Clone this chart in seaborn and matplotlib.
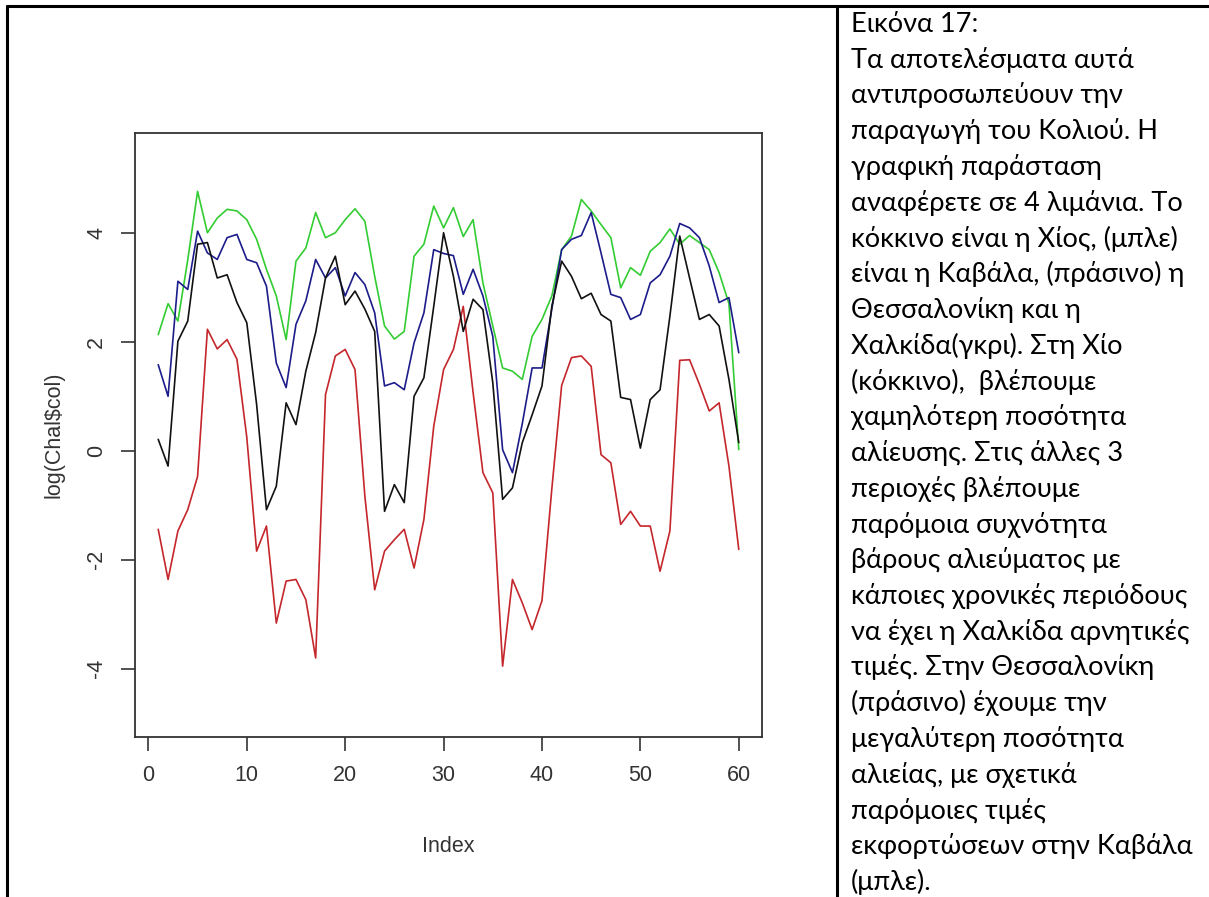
import pandas as pd
import matplotlib.pyplot as plt
import seaborn as sb
from matplotlib.lines import Line2D

# log catch per month, 4 ports
index = list(range(1, 61))
chios = [-1.44, -2.36, -1.47, -1.08, -0.47, 2.23, 1.87, 2.04, 1.68, 0.25,
         -1.84, -1.38, -3.16, -2.39, -2.36, -2.73, -3.80, 1.03, 1.74, 1.86,
         1.49, -0.83, -2.55, -1.84, -1.63, -1.44, -2.15, -1.26, 0.45, 1.49,
         1.86, 2.65, 1.07, -0.40, -0.77, -3.95, -2.36, -2.79, -3.28, -2.75,
         -0.70, 1.20, 1.71, 1.74, 1.55, -0.07, -0.22, -1.35, -1.11, -1.38,
         -1.38, -2.21, -1.47, 1.66, 1.67, 1.22, 0.73, 0.88, -0.28, -1.81]
kavala = [1.58, 1.00, 3.11, 2.96, 4.03, 3.63, 3.51, 3.91, 3.97, 3.51,
          3.45, 3.02, 1.61, 1.16, 2.32, 2.75, 3.51, 3.17, 3.36, 2.84,
          3.27, 3.05, 2.53, 1.19, 1.25, 1.12, 1.98, 2.53, 3.69, 3.62,
          3.58, 2.87, 3.33, 2.84, 2.10, 0.02, -0.40, 0.50, 1.52, 1.52,
          2.60, 3.69, 3.88, 3.95, 4.37, 3.63, 2.87, 2.81, 2.41, 2.50,
          3.08, 3.23, 3.57, 4.17, 4.09, 3.91, 3.39, 2.72, 2.81, 1.80]
thessaloniki = [2.13, 2.70, 2.38, 3.50, 4.76, 4.00, 4.27, 4.43, 4.40, 4.24,
                3.88, 3.33, 2.84, 2.04, 3.48, 3.72, 4.37, 3.91, 4.00, 4.24,
                4.44, 4.21, 3.20, 2.29, 2.05, 2.19, 3.57, 3.79, 4.49, 4.09,
                4.46, 3.93, 4.24, 3.08, 2.29, 1.52, 1.46, 1.31, 2.10, 2.41,
                2.84, 3.69, 3.94, 4.61, 4.40, 4.15, 3.91, 2.99, 3.36, 3.22,
                3.66, 3.82, 4.07, 3.79, 3.95, 3.82, 3.69, 3.27, 2.70, 0.02]
chalkida = [0.21, -0.28, 2.01, 2.38, 3.79, 3.82, 3.17, 3.23, 2.72, 2.35,
            0.85, -1.08, -0.65, 0.88, 0.48, 1.46, 2.17, 3.17, 3.57, 2.68,
            2.93, 2.60, 2.19, -1.11, -0.62, -0.95, 1.00, 1.34, 2.65, 4.00,
            3.20, 2.19, 2.78, 2.59, 1.25, -0.89, -0.68, 0.15, 0.66, 1.19,
            2.65, 3.48, 3.20, 2.79, 2.89, 2.50, 2.38, 0.98, 0.94, 0.05,
            0.94, 1.12, 2.47, 3.94, 3.17, 2.41, 2.50, 2.29, 1.31, 0.15]

caption = ['Εικόνα 17:',
           'Τα αποτελέσματα αυτά',
           'αντιπροσωπεύουν την',
           'παραγωγή του Κολιού. Η',
           'γραφική παράσταση',
           'αναφέρετε σε 4 λιμάνια. Το',
           'κόκκινο είναι η Χίος, (μπλε)',
           'είναι η Καβάλα, (πράσινο) η',
           'Θεσσαλονίκη και η',
           'Χαλκίδα(γκρι). Στη Χίο',
           '(κόκκινο),  βλέπουμε',
           'χαμηλότερη ποσότητα',
           'αλίευσης. Στις άλλες 3',
           'περιοχές βλέπουμε',
           'παρόμοια συχνότητα',
           'βάρους αλιεύματος με',
           'κάποιες χρονικές περιόδους',
           'να έχει η Χαλκίδα αρνητικές',
           'τιμές. Στην Θεσσαλονίκη',
           '(πράσινο) έχουμε την',
           'μεγαλύτερη ποσότητα',
           'αλιείας, με σχετικά',
           'παρόμοιες τιμές',
           'εκφορτώσεων στην Καβάλα',
           '(μπλε).']

df = pd.DataFrame({'Index': index, 'chios': chios, 'kavala': kavala,
                   'thessaloniki': thessaloniki, 'chalkida': chalkida})

sb.set_style('ticks')
plt.rcParams['font.family'] = ['Liberation Sans Narrow', 'Liberation Sans', 'DejaVu Sans']

W, H = 1209, 897
fig = plt.figure(figsize=(W / 100, H / 100), dpi=100)
fig.patch.set_facecolor('white')

# R style plot box
ax = fig.add_axes([135 / W, 1 - 737 / H, (762 - 135) / W, (737 - 133) / H])
for col, c in [('thessaloniki', '#33cc33'), ('kavala', '#1c1c8a'),
               ('chios', '#c4262b'), ('chalkida', '#111111')]:
    sb.lineplot(data=df, x='Index', y=col, color=c, lw=1.2, ax=ax)

ax.set_xlim(-1.36, 62.36)
ax.set_ylim(-5.25, 5.83)
ax.set_xticks(range(0, 61, 10))
ax.set_yticks([-4, -2, 0, 2, 4])
ax.set_yticklabels(['-4', '-2', '0', '2', '4'], rotation=90, va='center')
ax.tick_params(length=10, width=1.2, color='#333333', labelsize=15.5,
               labelcolor='#333333', pad=10)
for s in ax.spines.values():
    s.set_visible(True)
    s.set_color('#333333')
    s.set_linewidth(1.3)
ax.set_xlabel('Index', fontsize=15.5, color='#333333', labelpad=36)
ax.set_ylabel(r'log(Chal\$col)', fontsize=15.5, color='#333333', labelpad=16)
ax.grid(False)

# table borders of the document
lw = 2.2
fig.add_artist(Line2D([7 / W, 1], [1 - 6 / H, 1 - 6 / H], color='black', lw=lw))
fig.add_artist(Line2D([7 / W, 7 / W], [0, 1 - 6 / H], color='black', lw=lw))
fig.add_artist(Line2D([837 / W, 837 / W], [0, 1 - 6 / H], color='black', lw=lw))

# caption text in the right cell
for k, line in enumerate(caption):
    fig.text(851 / W, 1 - (32 + 35.75 * k) / H, line, fontsize=19.5,
             va='baseline', ha='left', color='black',
             family=['Lato', 'Noto Sans', 'DejaVu Sans'])

fig.savefig('out.png', dpi=100, facecolor='white')
